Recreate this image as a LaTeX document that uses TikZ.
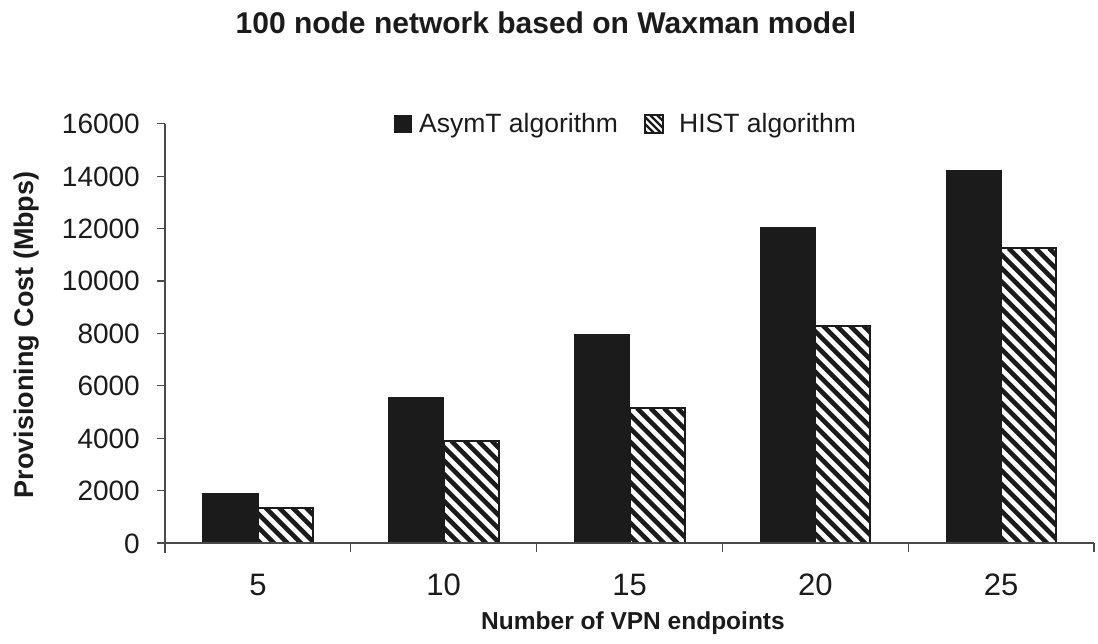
\documentclass[tikz,border=0pt]{standalone}
\usepackage{fontspec}
\setmainfont{Liberation Sans}
\definecolor{ink}{HTML}{1B1B1B}
\definecolor{axisgray}{HTML}{4A4A4A}
\tikzset{
  axisline/.style={draw=axisgray, line width=1.3pt},
  solidbar/.style={fill=ink, draw=ink, line width=1.2pt},
  hatchframe/.style={draw=ink, line width=2pt},
  hatchline/.style={draw=ink, line width=4.6pt},
  ticklabel/.style={inner sep=0pt, text=ink, font=\fontsize{28}{32}\selectfont},
  catlabel/.style={inner sep=0pt, text=ink, font=\fontsize{31}{36}\selectfont},
  legendlabel/.style={inner sep=0pt, text=ink, font=\fontsize{26.5}{30}\selectfont},
  axistitle/.style={inner sep=0pt, text=ink, font=\bfseries\fontsize{27}{32}\selectfont},
}
% hatched rectangle: #1 = left x, #2 = top y, #3 = right x, #4 = bottom y
\newcommand{\hatchbar}[4]{%
  \begin{scope}
    \clip (#1,#2) rectangle (#3,#4);
    \fill[white] (#1,#2) rectangle (#3,#4);
    \foreach \t in {-600,-586.5,...,80}{
      \draw[hatchline] ({#1+\t},#2) -- ({#1+\t+600},{#2+600});
    }
  \end{scope}
  \draw[hatchframe] (#1,#2) rectangle (#3,#4);
}
\begin{document}
\begin{tikzpicture}[x=1pt, y=-1pt]
\useasboundingbox (0,0) rectangle (1098,644);
\fill[white] (0,0) rectangle (1098,644);

% title
\node[inner sep=0pt, anchor=base, text=ink, font=\bfseries\fontsize{30}{36}\selectfont]
  (title) at (546,34) {100 node network based on Waxman model};

% bars: value v sits at y = 543 - 0.0262 v
\def\basey{543}
\foreach \c/\a/\h [count=\i] in {257.9/1900/1350, 443.7/5550/3900, 629.5/7950/5150, 815.3/12050/8300, 1001.1/14200/11250}{
  \pgfmathsetmacro{\ya}{543-0.0262*\a}
  \pgfmathsetmacro{\yh}{543-0.0262*\h}
  \draw[solidbar] ({\c-55},\ya) rectangle (\c,\basey);
  \hatchbar{\c}{\yh}{\c+55}{\basey}
}

% axes
\draw[axisline] (165,123.8) -- (165,553);
\draw[axisline] (165,543) -- (1094,543);
\foreach \k in {0,...,8}{
  \pgfmathsetmacro{\ty}{543-52.4*\k}
  \pgfmathtruncatemacro{\lab}{2000*\k}
  \draw[axisline] (157,\ty) -- (165,\ty);
  \node[ticklabel, anchor=base east] (ytick\k) at (140,{\ty+10}) {\lab};
}
\foreach \k in {1,...,5}{
  \draw[axisline] ({165+185.8*\k},543) -- ({165+185.8*\k},552);
}
\foreach \c/\lab [count=\i] in {257.9/5, 443.7/10, 629.5/15, 815.3/20, 1001.1/25}{
  \node[catlabel, anchor=base] (xtick\i) at (\c,595) {\lab};
}

% axis titles
\node[axistitle, anchor=base, rotate=90] (ytitle) at (33,335) {Provisioning Cost (Mbps)};
\node[axistitle, anchor=base, font=\bfseries\fontsize{24.5}{30}\selectfont] (xtitle) at (633,629) {Number of VPN endpoints};

% legend
\fill[ink] (394,115) rectangle (412,133);
\node[legendlabel, anchor=base west] (legA) at (419,133) {AsymT algorithm};
\begin{scope}
  \clip (645,115) rectangle (663,133);
  \foreach \t in {-30,-23,...,20}{
    \draw[ink, line width=2.4pt] ({645+\t},115) -- ({645+\t+30},145);
  }
\end{scope}
\draw[ink, line width=1.6pt] (645,115) rectangle (663,133);
\node[legendlabel, anchor=base west] (legH) at (679,133) {HIST algorithm};
\end{tikzpicture}
\end{document}
